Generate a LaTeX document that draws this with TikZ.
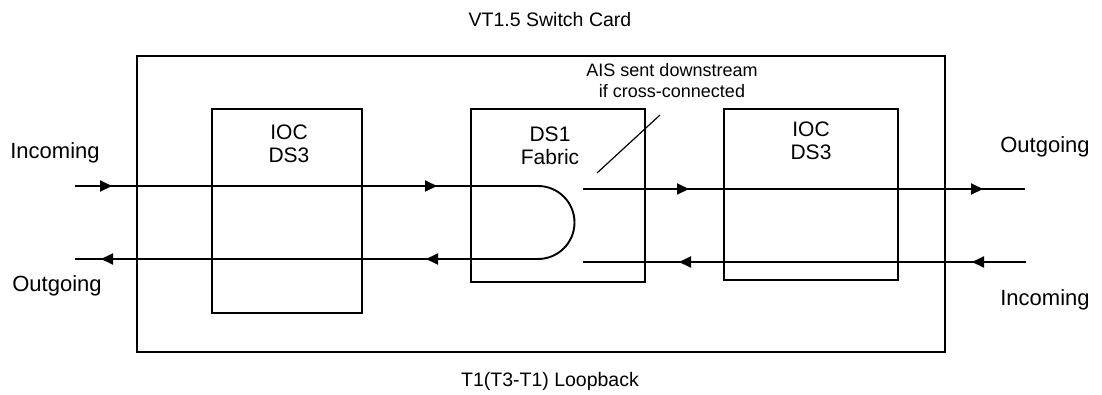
\documentclass[tikz,border=0pt]{standalone}
\usepackage{fontspec}
\setmainfont{Liberation Sans}
\usetikzlibrary{arrows.meta,decorations.markings}
\begin{document}
\begin{tikzpicture}[x=1pt,y=-1pt,
  boxst/.style={draw, line width=2.3pt, inner sep=0pt, outer sep=0pt, anchor=north west},
  lbl/.style={inner sep=0pt, font=\fontsize{22}{26}\selectfont},
  inlbl/.style={inner sep=0pt, align=center, font=\fontsize{21}{23.5}\selectfont},
  note/.style={inner sep=0pt, align=center, font=\fontsize{18}{21}\selectfont},
  sig/.style={line width=1.9pt},
  ar/.style={postaction={decorate}, decoration={markings, mark=at position #1 with {\arrow{Triangle[length=12pt,width=11pt]}}}},
]
\useasboundingbox (0,0) rectangle (1102,394);
% outer card
\node[boxst, line width=2.8pt, minimum width=808pt, minimum height=296pt] (card) at (137,56) {};
% boxes
\node[boxst, minimum width=150pt, minimum height=204pt] (ioc1) at (212,109) {};
\node[boxst, minimum width=174pt, minimum height=173pt] (fab) at (471,109) {};
\node[boxst, minimum width=174pt, minimum height=171pt] (ioc2) at (724,109) {};
% texts
\node[lbl, font=\fontsize{19.5}{23}\selectfont] (title) at (550,20) {VT1.5 Switch Card};
\node[lbl, font=\fontsize{19.5}{23}\selectfont] (foot) at (550,381) {T1(T3-T1) Loopback};
\node[inlbl] (ioc1t) at (289,144) {IOC\\DS3};
\node[inlbl] (fabt) at (550,146) {DS1\\Fabric};
\node[inlbl] (ioc2t) at (811,141) {IOC\\DS3};
\node[note] (ais) at (672,81) {AIS sent downstream\\if cross-connected};
\node[lbl] (inl) at (55,153) {Incoming};
\node[lbl] (outl) at (57,286) {Outgoing};
\node[lbl] (outr) at (1045,147) {Outgoing};
\node[lbl] (inr) at (1045,300) {Incoming};
% signal coordinates
\coordinate (lin) at (75,186);
\coordinate (loopa) at (538,186);
\coordinate (loopb) at (538,259);
\coordinate (lout) at (75,259);
\coordinate (rua) at (583,189);
\coordinate (rub) at (1025,189);
\coordinate (rla) at (1026,262);
\coordinate (rlb) at (583,262);
\coordinate (d1) at (597,173);
\coordinate (d2) at (660,115);
% loopback path
\draw[sig, ar=37pt, decoration={markings, mark=at position 362pt with {\arrow{Triangle[length=12pt,width=11pt]}}}] (lin) -- (loopa);
\draw[sig] (loopa) arc[start angle=90, end angle=-90, radius=36.5pt] -- (loopb);
\draw[sig, ar=112pt, decoration={markings, mark=at position 437pt with {\arrow{Triangle[length=12pt,width=11pt]}}}] (loopb) -- (lout);
% right side
\draw[sig, ar=106pt, decoration={markings, mark=at position 400pt with {\arrow{Triangle[length=12pt,width=11pt]}}}] (rua) -- (rub);
\draw[sig, ar=54pt, decoration={markings, mark=at position 347pt with {\arrow{Triangle[length=12pt,width=11pt]}}}] (rla) -- (rlb);
% annotation line
\draw[line width=1.2pt] (d1) -- (d2);
\end{tikzpicture}
\end{document}
